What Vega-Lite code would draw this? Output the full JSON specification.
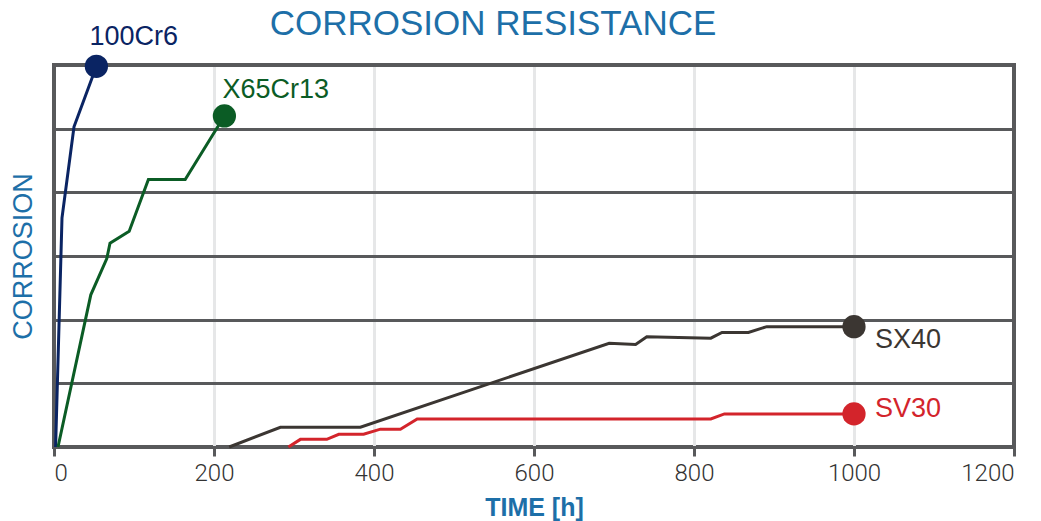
{
  "$schema": "https://vega.github.io/schema/vega-lite/v6.json",
  "width": 960,
  "height": 382,
  "autosize": "none",
  "padding": {"left": 54, "top": 65, "right": 27, "bottom": 74},
  "background": "white",
  "title": {
    "text": "CORROSION RESISTANCE",
    "font": "Liberation Sans",
    "fontSize": 35,
    "fontWeight": "normal",
    "color": "#1d6fa8",
    "anchor": "middle",
    "frame": "group",
    "dx": -41,
    "offset": -19
  },
  "config": {
    "view": {"stroke": "#58595b", "strokeWidth": 4},
    "font": "Liberation Sans"
  },
  "datasets": {
    "lines": [
      {"series": "100Cr6", "t": 2, "c": 0},
      {"series": "100Cr6", "t": 10, "c": 3.6},
      {"series": "100Cr6", "t": 25, "c": 5.03},
      {"series": "100Cr6", "t": 53, "c": 5.98},
      {"series": "X65Cr13", "t": 5, "c": 0},
      {"series": "X65Cr13", "t": 46, "c": 2.39},
      {"series": "X65Cr13", "t": 66, "c": 2.96},
      {"series": "X65Cr13", "t": 70, "c": 3.2},
      {"series": "X65Cr13", "t": 94, "c": 3.39},
      {"series": "X65Cr13", "t": 118, "c": 4.2},
      {"series": "X65Cr13", "t": 164, "c": 4.2},
      {"series": "X65Cr13", "t": 213, "c": 5.2},
      {"series": "SX40", "t": 219, "c": 0},
      {"series": "SX40", "t": 283, "c": 0.31},
      {"series": "SX40", "t": 383, "c": 0.31},
      {"series": "SX40", "t": 694, "c": 1.63},
      {"series": "SX40", "t": 727, "c": 1.61},
      {"series": "SX40", "t": 741, "c": 1.73},
      {"series": "SX40", "t": 821, "c": 1.71},
      {"series": "SX40", "t": 835, "c": 1.8},
      {"series": "SX40", "t": 868, "c": 1.8},
      {"series": "SX40", "t": 891, "c": 1.89},
      {"series": "SX40", "t": 1000, "c": 1.89},
      {"series": "SV30", "t": 293, "c": 0},
      {"series": "SV30", "t": 308, "c": 0.12},
      {"series": "SV30", "t": 341, "c": 0.12},
      {"series": "SV30", "t": 356, "c": 0.2},
      {"series": "SV30", "t": 387, "c": 0.2},
      {"series": "SV30", "t": 408, "c": 0.28},
      {"series": "SV30", "t": 433, "c": 0.28},
      {"series": "SV30", "t": 454, "c": 0.44},
      {"series": "SV30", "t": 821, "c": 0.44},
      {"series": "SV30", "t": 838, "c": 0.52},
      {"series": "SV30", "t": 1000, "c": 0.52}
    ],
    "ends": [
      {"series": "100Cr6", "t": 53, "c": 5.98},
      {"series": "X65Cr13", "t": 213, "c": 5.2},
      {"series": "SX40", "t": 1000, "c": 1.89},
      {"series": "SV30", "t": 1000, "c": 0.52}
    ]
  },
  "encoding": {
    "x": {
      "field": "t",
      "type": "quantitative",
      "scale": {"domain": [0, 1200], "nice": false, "zero": false},
      "axis": {
        "values": [0, 200, 400, 600, 800, 1000, 1200],
        "format": "d",
        "grid": true,
        "gridColor": {"condition": {"test": "datum.value == 0 || datum.value == 1200", "value": "transparent"}, "value": "#e6e7e8"},
        "gridWidth": 3,
        "domain": false,
        "ticks": true,
        "tickColor": "#58595b",
        "tickWidth": 3,
        "tickSize": 9,
        "labelFont": "Roboto",
        "labelFontWeight": 300,
        "labelFontSize": 24,
        "labelColor": "#333333",
        "labelPadding": 5,
        "title": "TIME [h]",
        "titleFont": "Liberation Sans",
        "titleFontSize": 25,
        "titleFontWeight": "bold",
        "titleColor": "#1d6fa8",
        "titlePadding": 10
      }
    },
    "y": {
      "field": "c",
      "type": "quantitative",
      "scale": {"domain": [0, 6], "nice": false},
      "axis": {
        "values": [0, 1, 2, 3, 4, 5, 6],
        "grid": true,
        "gridColor": "#58595b",
        "gridWidth": 3,
        "domain": false,
        "ticks": false,
        "labels": false,
        "title": "CORROSION",
        "titleFont": "Liberation Sans",
        "titleFontSize": 27,
        "titleFontWeight": "normal",
        "titleColor": "#1d6fa8",
        "titlePadding": 17
      }
    },
    "color": {
      "field": "series",
      "type": "nominal",
      "scale": {
        "domain": ["100Cr6", "X65Cr13", "SX40", "SV30"],
        "range": ["#0a2463", "#0b5c25", "#3b3632", "#d3242b"]
      },
      "legend": null
    }
  },
  "layer": [
    {
      "data": {"name": "lines"},
      "mark": {"type": "line", "strokeWidth": 3, "clip": false},
      "encoding": {"detail": {"field": "series"}}
    },
    {
      "data": {"name": "ends"},
      "mark": {"type": "circle", "size": 540, "opacity": 1}
    },
    {
      "data": {"name": "ends"},
      "transform": [{"filter": "datum.series == '100Cr6'"}],
      "mark": {"type": "text", "fontSize": 27, "align": "left", "baseline": "alphabetic", "dx": -7, "dy": -21},
      "encoding": {"text": {"field": "series"}}
    },
    {
      "data": {"name": "ends"},
      "transform": [{"filter": "datum.series == 'X65Cr13'"}],
      "mark": {"type": "text", "fontSize": 27, "align": "left", "baseline": "alphabetic", "dx": -2, "dy": -18},
      "encoding": {"text": {"field": "series"}}
    },
    {
      "data": {"name": "ends"},
      "transform": [{"filter": "datum.series == 'SX40'"}],
      "mark": {"type": "text", "fontSize": 27, "align": "left", "baseline": "alphabetic", "dx": 21, "dy": 21},
      "encoding": {"text": {"field": "series"}}
    },
    {
      "data": {"name": "ends"},
      "transform": [{"filter": "datum.series == 'SV30'"}],
      "mark": {"type": "text", "fontSize": 27, "align": "left", "baseline": "alphabetic", "dx": 21, "dy": 3},
      "encoding": {"text": {"field": "series"}}
    }
  ]
}
